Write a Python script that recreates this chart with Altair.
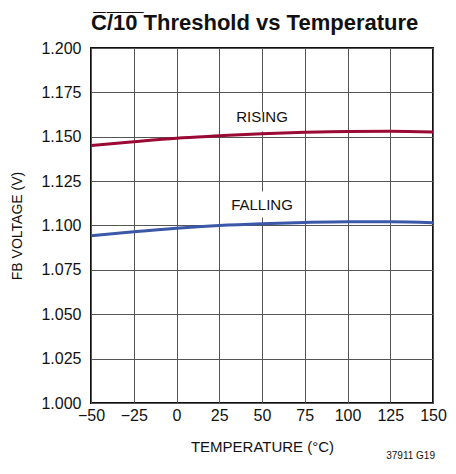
import altair as alt
import pandas as pd

temps = [-50, -25, 0, 25, 50, 75, 100, 125, 150]
rising = [1.1450, 1.1472, 1.1492, 1.1505, 1.1517, 1.1525, 1.1530, 1.1531, 1.1527]
falling = [1.0942, 1.0965, 1.0985, 1.1000, 1.1010, 1.1017, 1.1021, 1.1021, 1.1015]

label_text = ["RISING", "FALLING"]
label_x = [50, 50]
label_y = [1.1610, 1.1115]
gap_x = [47, 47]
gap_x2 = [53, 53]
gap_y = [1.1530, 1.1045]
gap_y2 = [1.1640, 1.1192]

FONT = "Liberation Sans"

rows = []
for t, r, f in zip(temps, rising, falling):
    rows.append({"t": t, "v": r, "s": "RISING"})
    rows.append({"t": t, "v": f, "s": "FALLING"})
df = pd.DataFrame(rows)
labels = pd.DataFrame({"text": label_text, "x": label_x, "y": label_y})
gaps = pd.DataFrame({"x": gap_x, "x2": gap_x2, "y": gap_y, "y2": gap_y2})

xs = alt.Scale(domain=[-50, 150], nice=False, zero=False)
ys = alt.Scale(domain=[1.0, 1.2], nice=False, zero=False)

xaxis = alt.Axis(values=temps, title="TEMPERATURE (°C)", labelExpr="replace(datum.label, '-', '−')",
                 ticks=False, domain=False, gridColor="#555555", gridWidth=1, gridOpacity=1,
                 labelFont=FONT, labelFontSize=16, labelColor="#111111", labelPadding=4,
                 titleFont=FONT, titleFontSize=15, titleFontWeight="normal", titleColor="#111111",
                 titlePadding=16, labelFlush=False)
yaxis = alt.Axis(values=[1.0 + 0.025 * i for i in range(9)], format=".3f", title="FB VOLTAGE (V)",
                 ticks=False, domain=False, gridColor="#555555", gridWidth=1, gridOpacity=1,
                 labelFont=FONT, labelFontSize=16, labelColor="#111111", labelPadding=10,
                 titleFont=FONT, titleFontSize=14, titleFontWeight="normal", titleColor="#111111",
                 titlePadding=16)

gap_layer = alt.Chart(gaps).mark_rect(color="white").encode(
    x=alt.X("x:Q", scale=xs, axis=xaxis), x2="x2:Q",
    y=alt.Y("y:Q", scale=ys, axis=yaxis), y2="y2:Q")

lines = alt.Chart(df).mark_line(strokeWidth=3, interpolate="monotone").encode(
    x=alt.X("t:Q", scale=xs),
    y=alt.Y("v:Q", scale=ys),
    color=alt.Color("s:N", scale=alt.Scale(domain=["RISING", "FALLING"], range=["#9a0a34", "#3b58a8"]), legend=None),
)

text = alt.Chart(labels).mark_text(font=FONT, fontSize=15, color="#111111").encode(
    x=alt.X("x:Q", scale=xs), y=alt.Y("y:Q", scale=ys), text="text:N")

foot = alt.Chart(pd.DataFrame({"f": ["37911 G19"]})).mark_text(
    font=FONT, fontSize=10, color="#111111", align="right", baseline="middle").encode(
    x=alt.value(344), y=alt.value(408), text="f:N")

chart = alt.layer(gap_layer, lines, text, foot).properties(
    width=342, height=355,
    title=alt.TitleParams("C\u0305/\u03051\u03050\u0305 Threshold vs Temperature", font=FONT, fontSize=22,
                          fontWeight="bold", color="#111111", anchor="start", frame="group", offset=5),
    autosize=alt.AutoSizeParams(type="none"),
    padding={"left": 83, "top": 40, "right": 15, "bottom": 62},
).configure_view(stroke="#111111", strokeWidth=2)

chart.save("out.html", embed_options={"renderer": "svg", "actions": False})
